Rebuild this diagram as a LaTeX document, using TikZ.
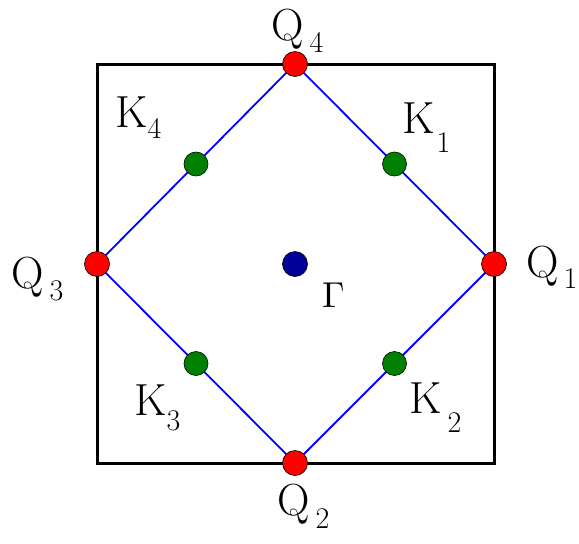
\documentclass[tikz,border=0pt]{standalone}
\usepackage{tikz}
\usetikzlibrary{calc}

% label with a lowered index: letter, index, gap, drop
\newcommand{\sublbl}[4]{#1\kern#3\raisebox{-#4}{\fontsize{30}{30}\selectfont #2}}

\begin{document}
\begin{tikzpicture}[
    x=1pt, y=-1pt,
    every node/.style={font=\fontsize{45}{45}\selectfont, inner sep=0pt},
    dot/.style={circle, draw=black, line width=0.6pt, minimum size=25pt, inner sep=0pt},
    qpt/.style={dot, fill=red},
    kpt/.style={dot, fill=green!50!black, minimum size=24pt},
    gpt/.style={dot, fill=blue!60!black},
    lbl/.style={anchor=base west},
    zone/.style={line width=3pt},
    edge/.style={blue, line width=1.8pt}
  ]
    \useasboundingbox (0,0) rectangle (579,544);

    % Brillouin zone
    \draw[zone] (97,64) rectangle (494,463);

    % Q points on the zone edges
    \coordinate (q1) at (494,264);
    \coordinate (q2) at (295,463);
    \coordinate (q3) at (97,264);
    \coordinate (q4) at (295,64);

    % Fermi surface
    \draw[edge] (q1) -- (q2) -- (q3) -- (q4) -- cycle;

    \node[qpt] (Q1) at (q1) {};
    \node[qpt] (Q2) at (q2) {};
    \node[qpt] (Q3) at (q3) {};
    \node[qpt] (Q4) at (q4) {};

    % K points halfway
    \node[kpt] (K1) at ($(q4)!0.5!(q1)$) {};
    \node[kpt] (K2) at ($(q1)!0.5!(q2)$) {};
    \node[kpt] (K3) at ($(q2)!0.5!(q3)$) {};
    \node[kpt] (K4) at ($(q3)!0.5!(q4)$) {};

    % zone centre
    \node[gpt] (G) at (295,264) {};

    % labels
    \node[lbl] (lQ1) at (526,277) {\sublbl{Q}{1}{5pt}{11pt}};
    \node[lbl] (lQ2) at (277,515) {\sublbl{Q}{2}{6pt}{13pt}};
    \node[lbl] (lQ3) at (11,288) {\sublbl{Q}{3}{6pt}{12pt}};
    \node[lbl] (lQ4) at (271,40) {\sublbl{Q}{4}{6pt}{12pt}};
    \node[lbl] (lK1) at (402,133) {\sublbl{K}{1}{2pt}{19pt}};
    \node[lbl] (lK2) at (409,413) {\sublbl{K}{2}{6pt}{19pt}};
    \node[lbl] (lK3) at (134,415) {\sublbl{K}{3}{0pt}{15pt}};
    \node[lbl] (lK4) at (115,127) {\sublbl{K}{4}{0pt}{11pt}};
    \node[lbl, font=\normalsize] (lG) at (322,307) {\scalebox{3.6}{$\Gamma$}};

  \end{tikzpicture}
\end{document}
